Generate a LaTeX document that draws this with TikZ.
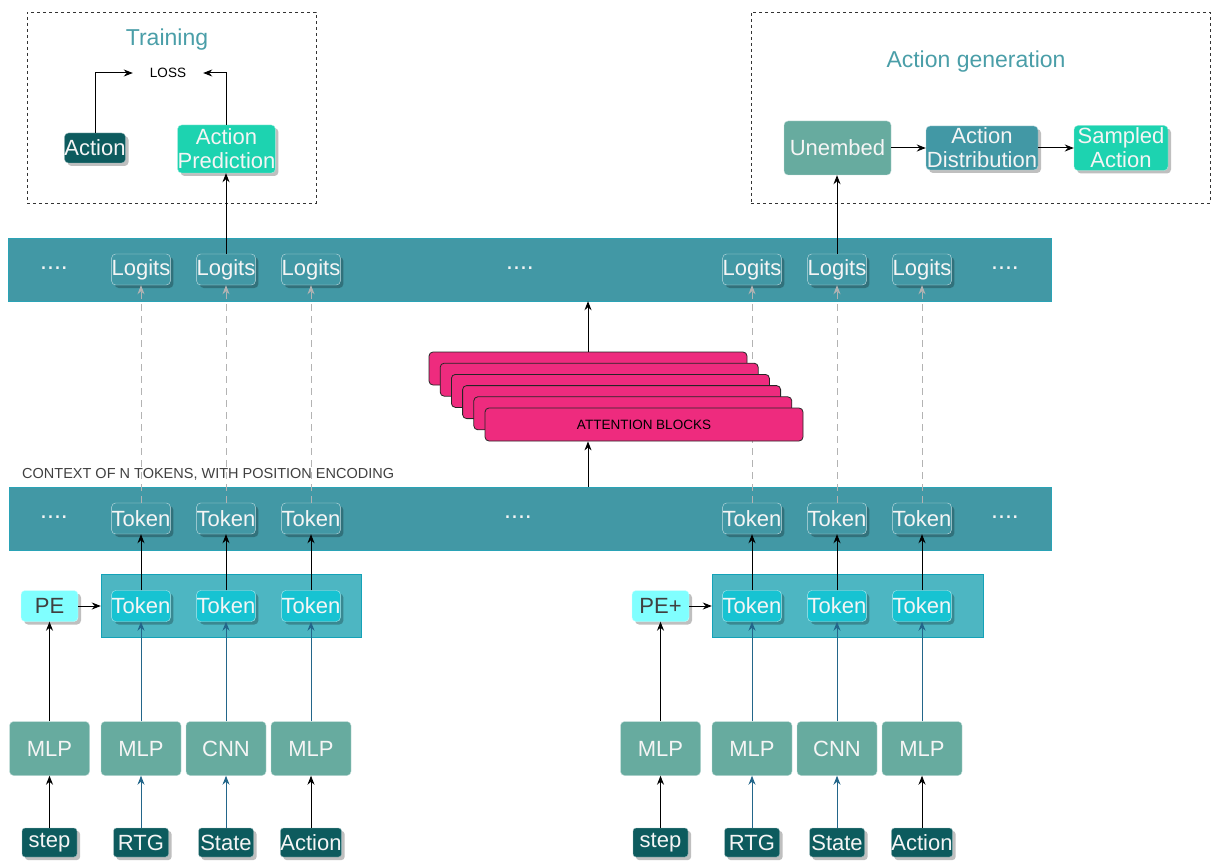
\documentclass[tikz,border=0pt]{standalone}
\usepackage{fontspec}
\setmainfont{Liberation Sans}
\usetikzlibrary{arrows.meta,shadows}
\definecolor{bandteal}{HTML}{4298A5}
\definecolor{bandedge}{HTML}{2AA3B6}
\definecolor{groupteal}{HTML}{4DB6C2}
\definecolor{groupedge}{HTML}{14A2B8}
\definecolor{tokcyan}{HTML}{17C3D2}
\definecolor{mlpgreen}{HTML}{67AB9F}
\definecolor{darkteal}{HTML}{0D5B5E}
\definecolor{mint}{HTML}{1DD3B0}
\definecolor{pecyan}{HTML}{80FFFF}
\definecolor{attpink}{HTML}{EE2B7E}
\definecolor{titleteal}{HTML}{4A9EA8}
\definecolor{linkblue}{HTML}{23668A}
\definecolor{dashgray}{HTML}{B3B3B3}
\begin{document}
\begin{tikzpicture}[x=1pt,y=-1pt,
  lbl/.style={font=\fontsize{22}{24}\selectfont,text=white!92!gray},
  box/.style={lbl,rounded corners=4pt,inner sep=0pt,align=center},
  shade/.style={drop shadow={shadow xshift=3pt,shadow yshift=-3pt,fill=black,opacity=0.25}},
  logit/.style={box,shade,fill=bandteal,draw=white!70!bandteal,minimum width=57pt,minimum height=31pt},
  tokc/.style={box,shade,fill=tokcyan,draw=white!65!tokcyan,minimum width=57pt,minimum height=31pt},
  mlp/.style={box,fill=mlpgreen,draw=white!60!mlpgreen,minimum width=80pt,minimum height=54pt},
  inp/.style={box,shade,fill=darkteal,draw=white!60!darkteal,rounded corners=3pt,minimum width=55pt,minimum height=29pt},
  pe/.style={box,shade,fill=pecyan,draw=white!60!pecyan,text=black!75,minimum width=57pt,minimum height=31pt},
  band/.style={fill=bandteal,draw=bandedge,inner sep=0pt,minimum height=63pt},
  group/.style={fill=groupteal,draw=groupedge,inner sep=0pt,minimum height=63pt},
  att/.style={fill=attpink,draw=black!85,rounded corners=4pt,line width=0.8pt,minimum width=318pt,minimum height=33pt,inner sep=0pt,font=\fontsize{13.5}{16}\selectfont},
  frame/.style={draw=black!80,line width=0.8pt,dash pattern=on 3pt off 3pt,inner sep=0pt},
  title/.style={text=titleteal,font=\fontsize{23}{27}\selectfont},
  dots/.style={text=white!92!gray,font=\fontsize{25}{28}\selectfont},
  arr/.style={-{Stealth[length=9pt,width=7pt]},line width=1pt},
  arrb/.style={arr,draw=linkblue},
  dsh/.style={arr,draw=dashgray,dash pattern=on 7pt off 5pt}]
\useasboundingbox (0,0) rectangle (1220,861);
% training and action generation
\node[frame,minimum width=289pt,minimum height=191pt] (trainbox) at (171.5,107.5) {};
\node[title] (traintitle) at (167,40) {Training};
\node[font=\fontsize{13.5}{16}\selectfont,minimum width=70pt,inner sep=0pt] (loss) at (168,73) {LOSS};
\node[box,shade,fill=darkteal,draw=white!60!darkteal,minimum width=56pt,minimum height=30pt] (act) at (95,148) {Action};
\node[box,shade,fill=mint,draw=white!60!mint,minimum width=97pt,minimum height=48pt] (pred) at (226.5,149) {Action\\Prediction};
\draw[arr] (act.north) |- (loss.west);
\draw[arr] (pred.north) |- (loss.east);
\node[frame,minimum width=459pt,minimum height=191pt] (genbox) at (980.5,107.5) {};
\node[title] (gentitle) at (976,62) {Action generation};
\node[box,fill=mlpgreen,draw=white!60!mlpgreen,minimum width=107pt,minimum height=54pt] (unembed) at (837.5,148) {Unembed};
\node[box,shade,fill=bandteal,draw=white!60!bandteal,minimum width=112pt,minimum height=44pt] (dist) at (982,148) {Action\\Distribution};
\node[box,shade,fill=mint,draw=white!60!mint,minimum width=94pt,minimum height=45pt] (sampled) at (1121,148) {Sampled\\Action};
\draw[arr] (unembed) -- (dist);
\draw[arr] (dist) -- (sampled);
% bands and groups
\node[band,minimum width=1043pt] (logband) at (529.5,269.5) {};
\node[band,minimum width=1042pt] (tokband) at (530,518.5) {};
\node[group,minimum width=260pt] (grpL) at (231,605.5) {};
\node[group,minimum width=271pt] (grpR) at (847.5,605.5) {};
\node[anchor=west,inner sep=0pt,text=black!75,font=\fontsize{14.5}{17}\selectfont] (ctx) at (22,474) {CONTEXT OF N TOKENS, WITH POSITION ENCODING};
\node[dots] (dl1) at (54,268) {....};
\node[dots] (dl2) at (520,268) {....};
\node[dots] (dl3) at (1005,268) {....};
\node[dots] (dt1) at (54,517) {....};
\node[dots] (dt2) at (518,517) {....};
\node[dots] (dt3) at (1005,517) {....};
\foreach \i/\x in {1/141,2/226,3/311,4/752,5/837,6/922}{
  \node[logit] (log\i) at (\x,269.5) {Logits};
  \node[logit] (tb\i) at (\x,518.5) {Token};
  \node[tokc] (tc\i) at (\x,606) {Token};
  \draw[dsh] (tb\i.north) -- (log\i.south);
  \draw[arr] (tc\i.north) -- (tb\i.south);
}
\draw[arr] (log2.north) -- (log2.north |- pred.south);
\draw[arr] (log5.north) -- (log5.north |- unembed.south);
% attention blocks
\foreach \k in {1,...,5}{
  \node[att] (att\k) at ({588+11.2*(\k-1)},{368.5+11.2*(\k-1)}) {};
}
\node[att] (att6) at (644,424.5) {ATTENTION BLOCKS};
\draw[arr] (tokband.north -| att1.north) -- (att6.south -| att1.north);
\draw[arr] (att1.north) -- (att1.north |- logband.south);
% inputs
\node[pe] (pe1) at (49.5,606) {PE};
\node[pe] (pe2) at (660.5,606) {PE+};
\draw[arr] (pe1.east) -- (pe1.east -| grpL.west);
\draw[arr] (pe2.east) -- (pe2.east -| grpR.west);
\foreach \j/\x/\m/\s/\a in {1/49.5/MLP/step/arr,2/141/MLP/RTG/arrb,3/226/CNN/State/arrb,4/311/MLP/Action/arr,
  5/660.5/MLP/step/arr,6/752/MLP/RTG/arrb,7/837/CNN/State/arrb,8/922/MLP/Action/arr}{
  \node[mlp] (mlp\j) at (\x,748.5) {\m};
  \node[inp] (in\j) at (\x,842.5) {\s};
  \draw[\a] (in\j) -- (mlp\j);
}
\draw[arr] (mlp1) -- (pe1);
\draw[arr] (mlp5) -- (pe2);
\draw[arrb] (mlp2) -- (tc1);
\draw[arrb] (mlp3) -- (tc2);
\draw[arrb] (mlp4) -- (tc3);
\draw[arrb] (mlp6) -- (tc4);
\draw[arrb] (mlp7) -- (tc5);
\draw[arrb] (mlp8) -- (tc6);
\end{tikzpicture}
\end{document}
